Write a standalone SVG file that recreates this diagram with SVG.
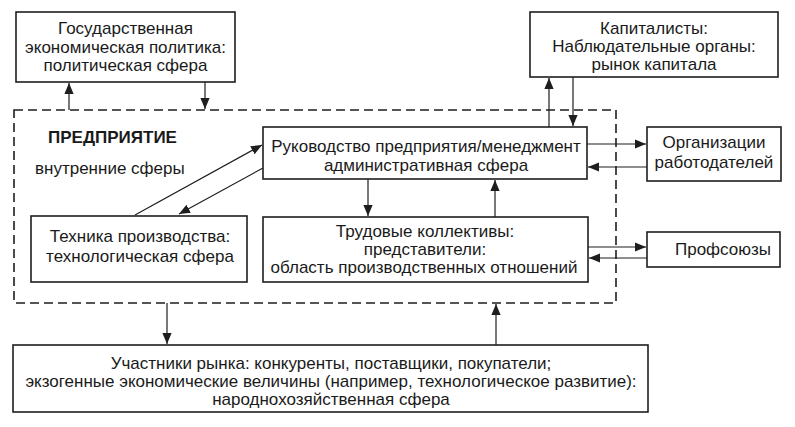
<svg xmlns="http://www.w3.org/2000/svg" width="795" height="427" viewBox="0 0 795 427">
<defs>
<marker id="ah" viewBox="0 0 10 10" refX="10" refY="5" markerWidth="11" markerHeight="11" markerUnits="userSpaceOnUse" orient="auto">
<path d="M0,0.8 L10,5 L0,9.2 z" fill="#1e1e1e"/>
</marker>
<style>
.box{fill:#fff;stroke:#1e1e1e;stroke-width:1.6}
.t{font-family:"Liberation Sans",Arial,sans-serif;font-size:17px;fill:#1a1a1a;text-anchor:middle}
.c{stroke:#1e1e1e;stroke-width:1.2;fill:none;marker-end:url(#ah)}
</style>
</defs>
<rect width="795" height="427" fill="#fff"/>
<g id="enterprise">
<rect x="14" y="110" width="602" height="193" fill="none" stroke="#1e1e1e" stroke-width="1.6" stroke-dasharray="9 5"/>
<text x="48" y="143" font-family="Liberation Sans,Arial,sans-serif" font-size="17" font-weight="bold" fill="#1a1a1a">ПРЕДПРИЯТИЕ</text>
<text x="35" y="174" font-family="Liberation Sans,Arial,sans-serif" font-size="17" fill="#1a1a1a">внутренние сферы</text>
</g>
<g id="gos">
<rect class="box" x="16" y="12" width="219" height="70"/>
<text class="t" x="125.5" y="34">Государственная</text>
<text class="t" x="125.5" y="53">экономическая политика:</text>
<text class="t" x="125.5" y="71">политическая сфера</text>
</g>
<g id="cap">
<rect class="box" x="530" y="12" width="248" height="65"/>
<text class="t" x="654" y="34">Капиталисты:</text>
<text class="t" x="654" y="52">Наблюдательные органы:</text>
<text class="t" x="654" y="70">рынок капитала</text>
</g>
<g id="mgmt">
<rect class="box" x="263" y="127" width="324" height="52"/>
<text class="t" x="426" y="152">Руководство предприятия/менеджмент</text>
<text class="t" x="426" y="171">административная сфера</text>
</g>
<g id="labor">
<rect class="box" x="263" y="217" width="325" height="65"/>
<text class="t" x="425" y="237">Трудовые коллективы:</text>
<text class="t" x="425" y="255">представители:</text>
<text class="t" x="424" y="273">область производственных отношений</text>
</g>
<g id="tech">
<rect class="box" x="31" y="216" width="216" height="66"/>
<text class="t" x="140" y="242">Техника производства:</text>
<text class="t" x="140" y="262">технологическая сфера</text>
</g>
<g id="employers">
<rect class="box" x="647" y="127" width="134" height="54"/>
<text class="t" x="714" y="148">Организации</text>
<text class="t" x="714" y="168">работодателей</text>
</g>
<g id="unions">
<rect class="box" x="647" y="232" width="133" height="35"/>
<text class="t" x="723" y="255">Профсоюзы</text>
</g>
<g id="market">
<rect class="box" x="13" y="345" width="635" height="67"/>
<text class="t" x="331" y="369" font-size="17.5">Участники рынка: конкуренты, поставщики, покупатели;</text>
<text class="t" x="331" y="387" font-size="17.5">экзогенные экономические величины (например, технологическое развитие):</text>
<text class="t" x="331" y="405" font-size="17.5">народнохозяйственная сфера</text>
</g>
<g id="connectors">
<line class="c" x1="69" y1="110" x2="69" y2="83"/>
<line class="c" x1="205" y1="82" x2="205" y2="109"/>
<line class="c" x1="549" y1="127" x2="549" y2="78"/>
<line class="c" x1="573" y1="77" x2="573" y2="126"/>
<line class="c" x1="135" y1="215" x2="262" y2="145"/>
<line class="c" x1="263" y1="168" x2="179" y2="214"/>
<line class="c" x1="368" y1="179" x2="368" y2="216"/>
<line class="c" x1="495" y1="217" x2="495" y2="180"/>
<line class="c" x1="587" y1="144" x2="646" y2="144"/>
<line class="c" x1="647" y1="167" x2="588" y2="167"/>
<line class="c" x1="588" y1="247" x2="646" y2="247"/>
<line class="c" x1="647" y1="258" x2="589" y2="258"/>
<line class="c" x1="167" y1="303" x2="167" y2="344"/>
<line class="c" x1="496" y1="345" x2="496" y2="304"/>
</g>
</svg>
